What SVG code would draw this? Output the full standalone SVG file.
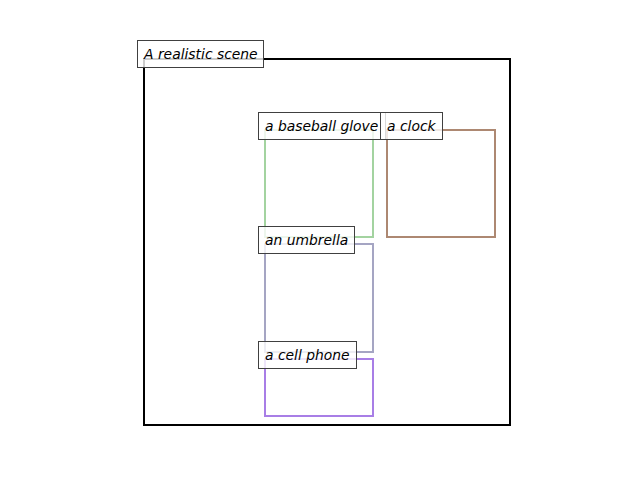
<svg xmlns="http://www.w3.org/2000/svg" width="640" height="480" viewBox="0 0 640 480">
<style>
.lbl rect{fill:#ffffff;fill-opacity:0.8;stroke:#404040;stroke-width:1}
.lbl text{font-family:"DejaVu Sans",sans-serif;font-style:italic;font-size:13.89px;fill:#000}
.bb{fill:none;stroke-width:2}
</style>
<rect width="640" height="480" fill="#fff"/>
<g id="scene">
<rect x="144" y="59" width="366" height="366" fill="none" stroke="#000" stroke-width="2"/>
</g>
<g id="glove"><rect class="bb" x="265" y="130" width="108" height="107" stroke="#a3d3a0"/></g>
<g id="clock"><rect class="bb" x="387" y="130" width="108" height="107" stroke="#ad8872"/></g>
<g id="umbrella"><rect class="bb" x="265" y="244" width="108" height="108" stroke="#a5a5c3"/></g>
<g id="phone"><rect class="bb" x="265" y="359" width="108" height="57" stroke="#a87ee6"/></g>
<g id="labels">
<g class="lbl" id="lbl-scene"><rect x="137.5" y="40.5" width="126" height="27"/><text x="144" y="59">A realistic scene</text></g>
<g class="lbl" id="lbl-glove"><rect x="258.5" y="112.5" width="127" height="27"/><text x="265" y="131">a baseball glove</text></g>
<g class="lbl" id="lbl-clock"><rect x="380.5" y="112.5" width="62" height="27"/><text x="387" y="131">a clock</text></g>
<g class="lbl" id="lbl-umbrella"><rect x="258.5" y="226.5" width="96" height="27"/><text x="265" y="245">an umbrella</text></g>
<g class="lbl" id="lbl-phone"><rect x="258.5" y="341.5" width="98" height="27"/><text x="265" y="360">a cell phone</text></g>
</g>
</svg>
